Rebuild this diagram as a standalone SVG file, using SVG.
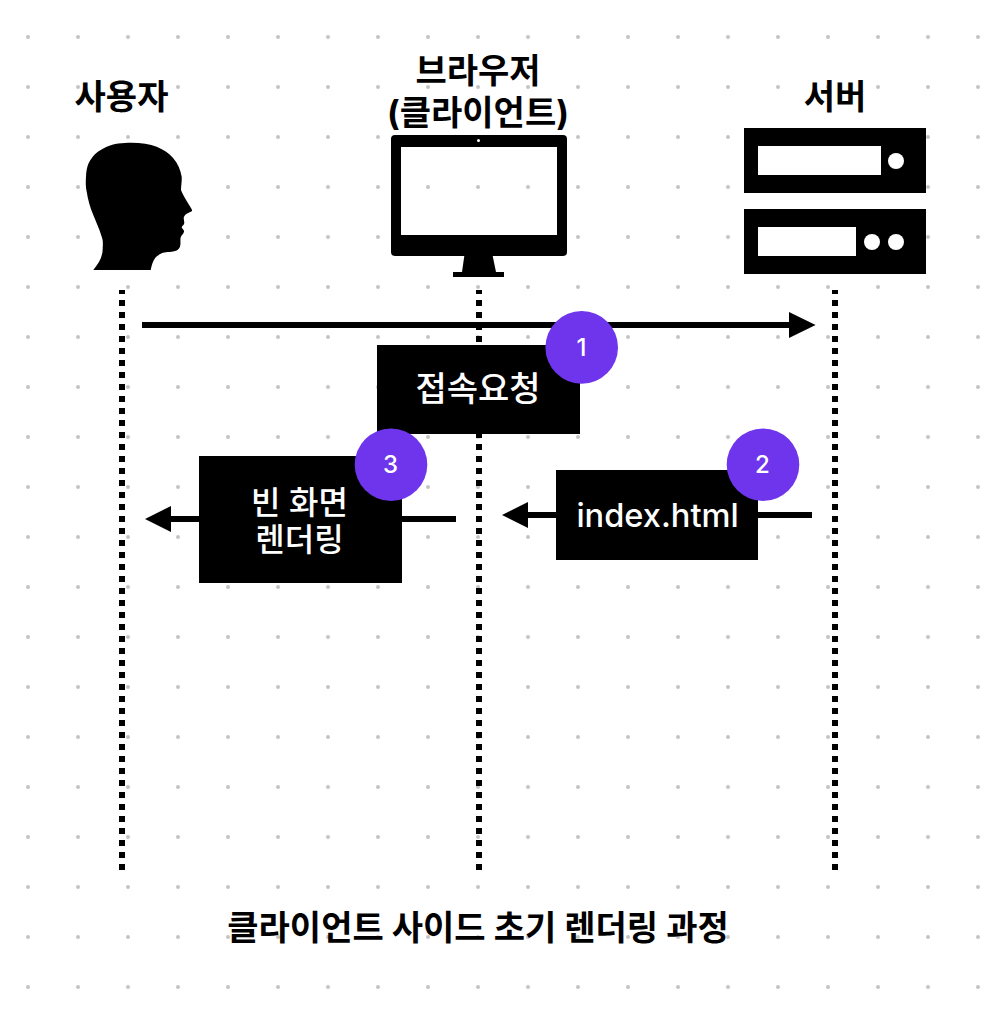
<svg xmlns="http://www.w3.org/2000/svg" width="996" height="1016" viewBox="0 0 996 1016">
<defs>
<pattern id="dots" x="3" y="12" width="50" height="50" patternUnits="userSpaceOnUse"><circle cx="25" cy="25" r="2" fill="#c4c4c4"/></pattern>
</defs>
<style>
text{font-family:"Inter","Noto Sans CJK KR",sans-serif;text-anchor:middle}
.h{font-size:34px;font-weight:700;fill:#000}
.w{font-size:32px;font-weight:500;fill:#fff}
.n{font-size:24px;font-weight:500;fill:#fff}
.b{fill:#000}
.o{fill:#fff}
.c{fill:#6f35ec}
.life{stroke:#000;stroke-width:6;stroke-dasharray:6 6;stroke-dashoffset:2;fill:none}
.flow{stroke:#000;stroke-width:6;fill:none}
</style>
<rect width="996" height="1016" fill="#fff"/>
<rect width="996" height="1016" fill="url(#dots)"/>
<g id="user">
<text class="h" x="121.500" y="109">사용자</text>
<path class="b" d="M93.3 270C99 263 103 256 102.7 248C103 243 103 240 101.7 236.7C99 228 96 222 93.3 215C90 207 88 200 86.7 191.7C85.5 186 85.7 181 86 176.7C86.5 168 88 163 91.7 158.3C95 153 100 150 106.7 146.7C114 143.5 122 142.7 131.7 142.7C141 142.7 150 144 156.7 146.7C164 150 169 153 173.3 158.3C178 164 180.5 170 181.7 176.7C182 181 181 186 181 190C183 196 189 204 191.7 209.3C192.5 211 192 211.5 190.7 211.7C188 213 185 214 184 216.7C183 219 185 222 184 224C183.5 225.5 181.7 226 181.7 227.3C182 229 184.5 230 184 231.7C183.5 234 181.5 235 180.7 237.3C180 240 181 243 180 246.7C179 249 177.5 250.5 175 251C170 252.5 165 251.5 161.7 253.3C158 255 156 257 155 258.3C152.5 262 151.5 266 150.7 270Z"/>
</g>
<g id="browser">
<text class="h" x="478" y="83">브라우저</text>
<text class="h" x="478" y="125">(클라이언트)</text>
<path class="b" fill-rule="evenodd" d="M395 135H563Q567 135 567 139V252Q567 256 563 256H395Q391 256 391 252V139Q391 135 395 135ZM401 147V235H557V147Z"/>
<path class="b" d="M464.300 256H492.700L496 272H504V277H453V272H462Z"/>
<circle class="o" cx="478.500" cy="140.500" r="1.500"/>
</g>
<g id="server">
<text class="h" x="835" y="109">서버</text>
<rect class="b" x="744" y="128" width="182" height="65"/>
<rect class="o" x="758" y="146" width="123" height="29"/>
<circle class="o" cx="896" cy="161" r="8"/>
<rect class="b" x="744" y="209" width="182" height="65"/>
<rect class="o" x="758" y="227" width="98" height="29"/>
<circle class="o" cx="872" cy="242" r="8"/>
<circle class="o" cx="896" cy="242" r="8"/>
</g>
<g id="connectors">
<line class="life" x1="122" y1="290" x2="122" y2="870"/>
<line class="life" x1="479" y1="290" x2="479" y2="870"/>
<line class="life" x1="835" y1="290" x2="835" y2="870"/>
<line class="flow" x1="142" y1="325" x2="790" y2="325"/>
<polygon class="b" points="789,312 815.600,325 789,338"/>
<line class="flow" x1="170" y1="519" x2="456" y2="519"/>
<polygon class="b" points="171,506 145,519 171,532"/>
<line class="flow" x1="527" y1="515" x2="812" y2="515"/>
<polygon class="b" points="528,502 502,515 528,528"/>
</g>
<g id="step1">
<rect class="b" x="377" y="345" width="203" height="89"/>
<text class="w" style="font-size:34px" x="478" y="401">접속요청</text>
<circle class="c" cx="581.700" cy="347.400" r="36.300"/>
<text class="n" x="581.500" y="356">1</text>
</g>
<g id="step3">
<rect class="b" x="199" y="456" width="203" height="127"/>
<text class="w" x="299.500" y="514">빈 화면</text>
<text class="w" x="299.500" y="551">렌더링</text>
<circle class="c" cx="391" cy="464.700" r="36.300"/>
<text class="n" x="390.500" y="473">3</text>
</g>
<g id="step2">
<rect class="b" x="556" y="470" width="202" height="90"/>
<text class="w" style="font-size:32.600px" x="657.500" y="527">index.html</text>
<circle class="c" cx="763" cy="464.700" r="36.300"/>
<text class="n" x="762.500" y="473">2</text>
</g>
<text id="caption" class="h" x="478" y="940">클라이언트 사이드 초기 렌더링 과정</text>
</svg>
